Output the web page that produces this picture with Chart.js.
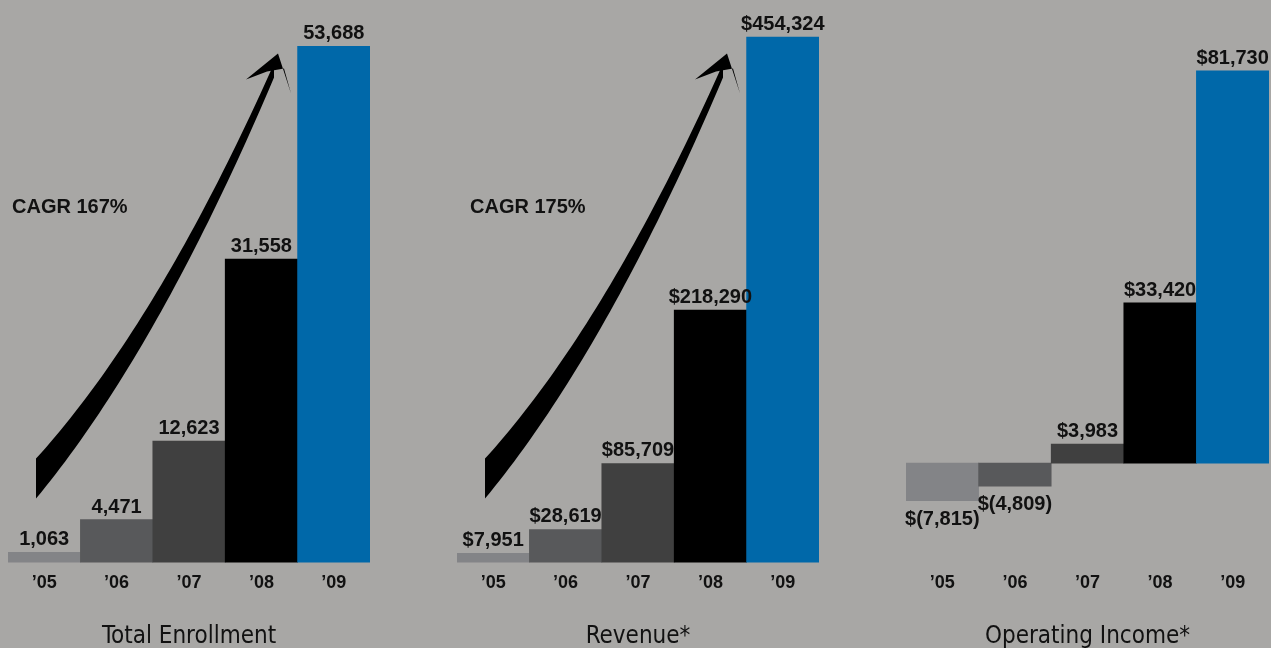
<!DOCTYPE html>
<html>
<head>
<meta charset="utf-8">
<script src="https://cdn.jsdelivr.net/npm/chart.js@4.4.1/dist/chart.umd.min.js"></script>
<style>
html, body { margin: 0; padding: 0; background: #a8a7a5; overflow: hidden; width: 1271px; height: 648px; }
.panel { position: absolute; top: 0; height: 648px; }
</style>
</head>
<body>
<div class="panel" style="left:-12px;width:402px"><canvas id="enrollChart"></canvas></div>
<div class="panel" style="left:437px;width:402px"><canvas id="revenueChart"></canvas></div>
<div class="panel" style="left:886px;width:403px"><canvas id="incomeChart"></canvas></div>
<script>
// data
const years = ['\u201905', '\u201906', '\u201907', '\u201908', '\u201909'];
const enrollment = [1063, 4471, 12623, 31558, 53688];
const revenue = [7951, 28619, 85709, 218290, 454324];
const operatingIncome = [-7815, -4809, 3983, 33420, 81730];
const chartTitles = ['Total Enrollment', 'Revenue*', 'Operating Income*'];
const cagrTexts = ['CAGR 167%', 'CAGR 175%'];

const barColors = ['#838487', '#58595b', '#404040', '#000000', '#0068a9'];
const labelFont = 'bold 20px "Liberation Sans", Arial, sans-serif';

const formats = {
  plain: v => v.toLocaleString('en-US'),
  dollar: v => v < 0 ? '$(' + Math.abs(v).toLocaleString('en-US') + ')' : '$' + v.toLocaleString('en-US')
};

// value labels above (or below, for losses) each bar
const barLabels = {
  id: 'barLabels',
  afterDatasetsDraw(chart, args, opts) {
    const ctx = chart.ctx;
    const data = chart.data.datasets[0].data;
    const fmt = formats[opts.format] || formats.plain;
    ctx.save();
    ctx.font = labelFont;
    ctx.fillStyle = '#111';
    ctx.textAlign = 'center';
    chart.getDatasetMeta(0).data.forEach((bar, i) => {
      const v = data[i];
      ctx.fillText(fmt(v), bar.x, v >= 0 ? bar.y - 7 : bar.y + 24);
    });
    ctx.restore();
  }
};

// tapered growth arrow + CAGR note, offsets from chart area left / bottom
const arrow = {
  tail: [28, -84], ctrl: [150, -225], end: [266, -492],
  tip: [270, -509], barbL: [238, -483], notchL: [259, -491], notchR: [276, -494], barbR: [283, -469],
  halfTail: 20, halfHead: 7
};

const growthArrow = {
  id: 'growthArrow',
  afterDatasetsDraw(chart, args, opts) {
    if (!opts.show) return;
    const ctx = chart.ctx;
    const ox = chart.chartArea.left, oy = chart.chartArea.bottom;
    const P = p => [ox + p[0], oy + p[1]];
    const a = P(arrow.tail), c = P(arrow.ctrl), b = P(arrow.end);
    const up = [], down = [];
    const n = 50;
    for (let k = 0; k <= n; k++) {
      const t = k / n, s = 1 - t;
      const x = s * s * a[0] + 2 * s * t * c[0] + t * t * b[0];
      const y = s * s * a[1] + 2 * s * t * c[1] + t * t * b[1];
      const h = arrow.halfTail + (arrow.halfHead - arrow.halfTail) * t;
      up.push([x, y - h]);
      down.push([x, y + h]);
    }
    ctx.save();
    ctx.fillStyle = '#000';
    ctx.beginPath();
    up.forEach((p, i) => i ? ctx.lineTo(p[0], p[1]) : ctx.moveTo(p[0], p[1]));
    for (let i = down.length - 1; i >= 0; i--) ctx.lineTo(down[i][0], down[i][1]);
    ctx.closePath();
    ctx.fill();
    ctx.beginPath();
    [arrow.tip, arrow.barbL, arrow.notchL, arrow.notchR, arrow.barbR].map(P)
      .forEach((p, i) => i ? ctx.lineTo(p[0], p[1]) : ctx.moveTo(p[0], p[1]));
    ctx.closePath();
    ctx.fill();

    ctx.font = labelFont;
    ctx.fillStyle = '#111';
    ctx.textAlign = 'left';
    ctx.fillText(opts.text, ox + opts.dx, oy - 350);
    ctx.restore();
  }
};

function makeChart(id, values, title, yMin, yMax, padTop, format, arrowOpts) {
  return new Chart(document.getElementById(id), {
    type: 'bar',
    data: {
      labels: years,
      datasets: [{
        data: values,
        backgroundColor: barColors,
        borderWidth: 0,
        categoryPercentage: 1,
        barPercentage: 1
      }]
    },
    options: {
      responsive: true,
      maintainAspectRatio: false,
      animation: false,
      layout: { padding: { top: padTop, left: 20, right: 20, bottom: -3 } },
      scales: {
        x: {
          grid: { display: false, drawTicks: false },
          border: { display: false },
          ticks: {
            padding: 10,
            color: '#111',
            font: { family: '"Liberation Sans", Arial, sans-serif', size: 18, weight: 'bold' }
          }
        },
        y: { display: false, min: yMin, max: yMax }
      },
      plugins: {
        legend: { display: false },
        tooltip: { enabled: false },
        title: {
          display: true,
          text: title,
          position: 'bottom',
          color: '#111',
          font: { family: '"Liberation Sans Narrow", "DejaVu Sans Condensed", sans-serif', size: 24, weight: 'normal' },
          padding: { top: 18, bottom: 0 }
        },
        barLabels: { format: format },
        growthArrow: arrowOpts
      }
    },
    plugins: [barLabels, growthArrow]
  });
}

makeChart('enrollChart', enrollment, chartTitles[0], 0, 56000, 24, 'plain', { show: true, text: cagrTexts[0], dx: 4 });
makeChart('revenueChart', revenue, chartTitles[1], 0, 470000, 19, 'dollar', { show: true, text: cagrTexts[1], dx: 13 });
makeChart('incomeChart', operatingIncome, chartTitles[2], -20700, 90000, 31, 'dollar', { show: false });
</script>
</body>
</html>
